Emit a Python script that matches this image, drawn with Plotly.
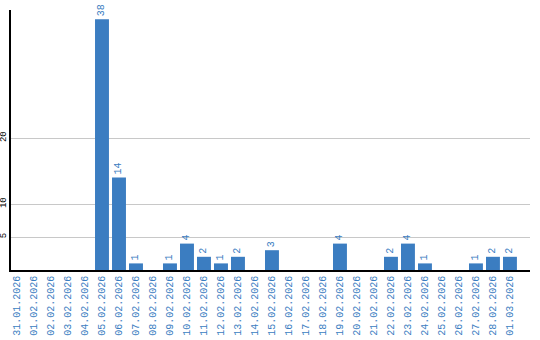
import plotly.graph_objects as go

dates = ["31.01.2026", "01.02.2026", "02.02.2026", "03.02.2026", "04.02.2026",
         "05.02.2026", "06.02.2026", "07.02.2026", "08.02.2026", "09.02.2026",
         "10.02.2026", "11.02.2026", "12.02.2026", "13.02.2026", "14.02.2026",
         "15.02.2026", "16.02.2026", "17.02.2026", "18.02.2026", "19.02.2026",
         "20.02.2026", "21.02.2026", "22.02.2026", "23.02.2026", "24.02.2026",
         "25.02.2026", "26.02.2026", "27.02.2026", "28.02.2026", "01.03.2026"]
counts = [0, 0, 0, 0, 0, 38, 14, 1, 0, 1, 4, 2, 1, 2, 0, 3, 0, 0, 0, 4,
          0, 0, 2, 4, 1, 0, 0, 1, 2, 2]
y_ticks = [5, 10, 20]

BLUE = "#3b7dc1"
labels = [str(v) if v else "" for v in counts]

fig = go.Figure(go.Bar(
    x=list(range(len(dates))), y=counts, marker_color=BLUE, marker_line_width=0,
    text=labels, textposition="outside", textangle=-90, cliponaxis=False,
    textfont=dict(family="Liberation Mono", size=10, color=BLUE),
))
fig.update_layout(
    width=540, height=340, margin=dict(l=11, r=10, t=10, b=70),
    paper_bgcolor="white", plot_bgcolor="white", showlegend=False, bargap=0.18,
    xaxis=dict(range=[-0.353, 30.18], tickmode="array", tickvals=list(range(len(dates))),
               ticktext=dates, tickangle=-90, showgrid=False, zeroline=False,
               showline=True, linecolor="black", linewidth=1.5, ticks="",
               tickfont=dict(family="Liberation Mono", size=10, color=BLUE),
               automargin=False),
    yaxis=dict(range=[0, 39.4], tickmode="array", tickvals=y_ticks, tickangle=-90,
               showgrid=True, gridcolor="#c8c8c8", gridwidth=1, zeroline=False,
               showline=True, linecolor="black", linewidth=1.5, ticks="",
               tickfont=dict(family="Liberation Mono", size=9, color="black"),
               automargin=False),
)
fig.write_html("out.html")
